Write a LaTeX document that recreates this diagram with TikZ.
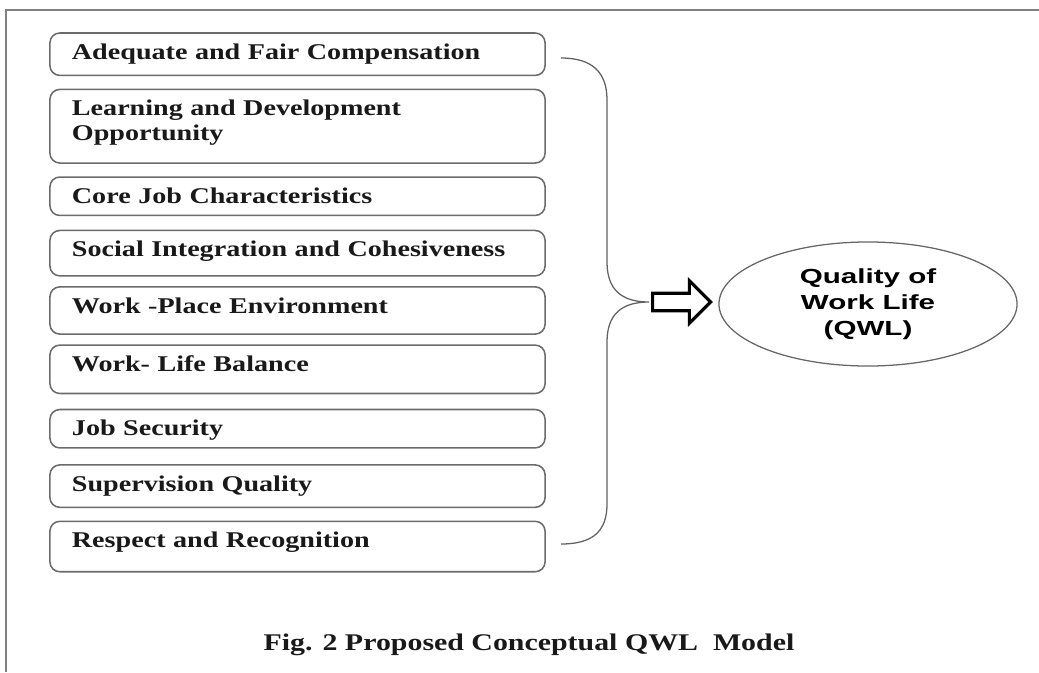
\documentclass[tikz,border=0pt]{standalone}
\usepackage{fontspec}
\setmainfont{Liberation Serif}[FakeStretch=1.25]
\newfontfamily\qwlfont{Liberation Sans}[FakeStretch=1.45]
\usetikzlibrary{shapes.geometric,shapes.arrows,positioning}

\begin{document}
\begin{tikzpicture}[
  x=0.025cm, y=-0.025cm,
  font=\fontsize{16}{17.7}\selectfont\bfseries,
  frame/.style={draw=black!50, line width=1.4pt},
  factor/.style={rectangle, rounded corners=7pt, draw=black!58, line width=1.1pt, outer sep=0pt,
                 text width=11.275cm, inner xsep=0.55cm, inner ysep=0pt, align=left,
                 text height=0.66cm, text depth=#1, text=black!90},
  brace/.style={draw=black!62, line width=0.9pt},
  bigarrow/.style={single arrow, draw=black, line width=2.2pt, fill=white, inner sep=0.18cm,
                   single arrow head extend=0.31cm, minimum height=1.45cm},
  outcome/.style={ellipse, draw=black!60, line width=0.9pt, minimum width=7.45cm, minimum height=3.1cm,
                  align=center, font=\qwlfont\fontsize{14.5}{18.4}\selectfont\bfseries},
  caption/.style={font=\fontsize{17}{18}\selectfont\bfseries, text=black!90},
]
\useasboundingbox (0,0) rectangle (1039,672);
\draw[frame] (1039,10) -- (6,10) -- (6,672);

% the nine factors
\node[factor=0.4cm, anchor=north] (comp) at (297.5,33) {Adequate and Fair Compensation};
\node[factor=1.18cm, below=0.35cm of comp]    (learn)  {Learning and Development\\Opportunity};
\node[factor=0.3cm, below=0.35cm of learn]    (core)   {Core Job Characteristics};
\node[factor=0.475cm, below=0.375cm of core]  (social) {Social Integration and Cohesiveness};
\node[factor=0.52cm, below=0.275cm of social]  (place)  {Work -Place Environment};
\node[factor=0.55cm, below=0.275cm of place]   (balance){Work- Life Balance};
\node[factor=0.3cm, below=0.4cm of balance]   (secure) {Job Security};
\node[factor=0.4cm, below=0.425cm of secure]  (superv) {Supervision Quality};
\node[factor=0.6cm, below=0.35cm of superv]   (respect){Respect and Recognition};

% brace into the outcome
\coordinate (btop) at (561,58);
\coordinate (bbot) at (561,544);
\coordinate (btip) at (649,302);
\draw[brace] (btop) .. controls (592,58) and (607,72) .. (607,100) -- (607,262)
  .. controls (607,290) and (622,302) .. (btip)
  .. controls (622,302) and (607,314) .. (607,342) -- (607,504)
  .. controls (607,532) and (592,544) .. (bbot);

\node[bigarrow, right=0.05cm of btip] (arr) {};
\node[outcome] (qwl) at (868,304) {Quality of\\Work Life\\(QWL)};

\node[caption, anchor=base] (cap) at (529,650) {Fig. 2 Proposed Conceptual QWL\ \ Model};
\end{tikzpicture}
\end{document}
